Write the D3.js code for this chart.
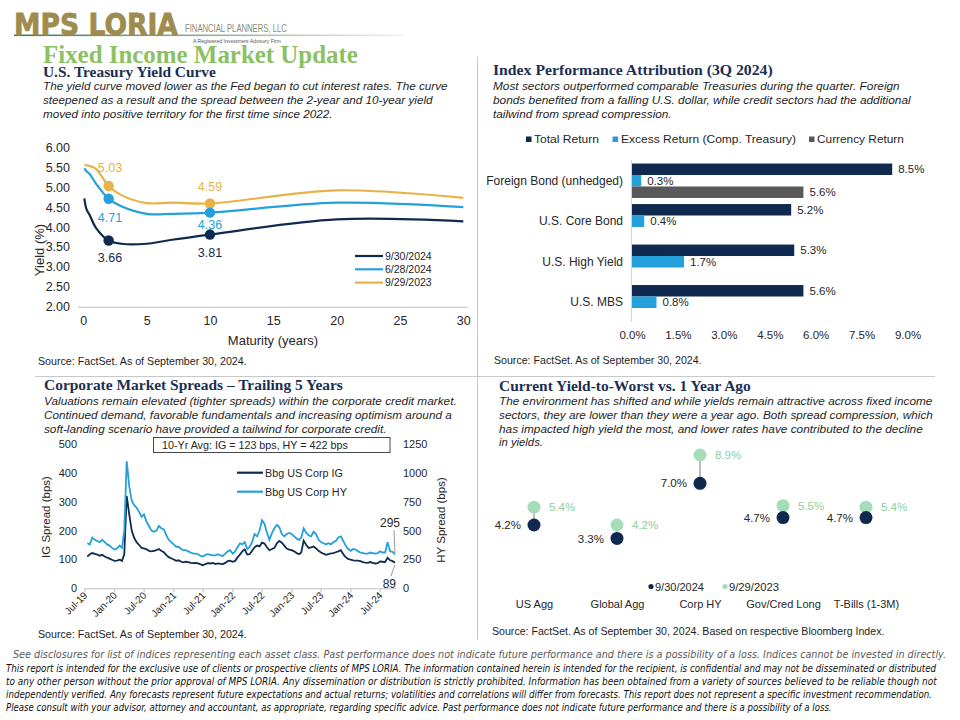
<!DOCTYPE html>
<html lang="en">
<head>
<meta charset="UTF-8">
<title>Fixed Income Market Update</title>
<style>
  body { margin: 0; background: #fff; }
  svg { display: block; font-family: "Liberation Sans", Arial, sans-serif; }
</style>
</head>
<body>
<script src="https://d3js.org/d3.v7.min.js"></script>
<script>
// ---- data ----
const maturities = [0.083, 0.25, 0.5, 1, 2, 3, 5, 7, 10, 20, 30];
const yieldSep2024 = [4.72, 4.45, 4.30, 3.98, 3.66, 3.58, 3.58, 3.68, 3.81, 4.19, 4.14];
const yieldJun2024 = [5.47, 5.40, 5.33, 5.09, 4.71, 4.52, 4.33, 4.33, 4.36, 4.61, 4.50];
const yieldSep2023 = [5.55, 5.55, 5.53, 5.46, 5.03, 4.80, 4.60, 4.61, 4.59, 4.92, 4.73];
const curveNames = ["9/30/2024", "6/28/2024", "9/29/2023"];
const yieldTicks = [2, 2.5, 3, 3.5, 4, 4.5, 5, 5.5, 6];
const maturityTicks = [0, 5, 10, 15, 20, 25, 30];

const attribCategories = ["Foreign Bond (unhedged)", "U.S. Core Bond", "U.S. High Yield", "U.S. MBS"];
const totalReturn = [8.5, 5.2, 5.3, 5.6];
const excessReturn = [0.3, 0.4, 1.7, 0.8];
const currencyReturn = [5.6, null, null, null];
const attribSeries = ["Total Return", "Excess Return (Comp. Treasury)", "Currency Return"];
const returnTicks = [0, 1.5, 3, 4.5, 6, 7.5, 9];

// mid-month and month-end readings, Jul 2019 .. Sep 2024
const igSpread = [
  110,118, 122,119, 117,113, 116,110, 106,103, 99,95,
  96,99, 95,118, 320,255, 200,175, 160,150, 140,138, 135,130, 128,130, 132,136, 130,125, 115,108, 104,100,
  95,97, 92,90, 92,91, 88,87, 88,86, 83,80, 84,87, 86,88, 84,86, 85,84, 88,94, 96,92,
  95,108, 118,128, 135,117, 118,130, 142,148, 145,158, 155,142, 132,136, 140,156, 164,158, 148,138, 134,132,
  128,122, 118,124, 165,150, 140,142, 145,138, 130,124, 120,116, 118,121, 122,125, 128,132, 118,108, 102,99,
  97,96, 96,94, 91,89, 88,91, 88,86, 87,93, 92,91, 106,97, 94,89
];
const hySpread = [
  390,380, 440,420, 410,400, 420,400, 380,370, 350,336,
  345,370, 350,500, 1100,880, 760,720, 700,660, 620,640, 580,540, 500,490, 500,540, 520,510, 460,420, 400,380,
  360,360, 340,330, 330,320, 310,300, 300,295, 280,275, 290,295, 290,285, 285,295, 285,280, 300,320, 330,300,
  320,360, 390,380, 400,340, 360,400, 470,450, 500,590, 560,480, 420,480, 520,550, 530,470, 450,470, 480,470,
  450,430, 420,440, 520,480, 460,450, 490,470, 420,400, 390,380, 390,380, 400,410, 440,450, 410,370, 340,325,
  340,335, 320,310, 305,300, 300,310, 305,300, 305,320, 310,310, 400,320, 315,295
];
const igTicks = [0, 100, 200, 300, 400, 500];
const hyTicks = [0, 250, 500, 750, 1000, 1250];
const spreadNames = ["Bbg US Corp IG", "Bbg US Corp HY"];

const ytwCategories = ["US Agg", "Global Agg", "Corp HY", "Gov/Cred Long", "T-Bills (1-3M)"];
const ytwCurrent = [4.2, 3.3, 7.0, 4.7, 4.7];
const ytwYearAgo = [5.4, 4.2, 8.9, 5.5, 5.4];
const ytwNames = ["9/30/2024", "9/29/2023"];

// ---- colours ----
const NAVY = '#102a4f', BLUE = '#25a0da', GOLD = '#e8b246', DARKGREY = '#595959';
const MINT = '#a7dcb9', MINT_TXT = '#8ccf9c', TITLE = '#1b2f52', INK = '#262626';

const svg = d3.select('body').append('svg').attr('width', 960).attr('height', 720);
svg.append('rect').attr('width', 960).attr('height', 720).attr('fill', '#fff');

function txt(g, x, y, s, o) {
  const t = g.append('text').attr('x', x).attr('y', y).text(s);
  for (const k in (o || {})) t.attr(k, o[k]);
  return t;
}
// squeeze/stretch a line of text horizontally to the width it has in the picture
function fitted(g, x, y, s, w, o) {
  const t = txt(g, 0, 0, s, o);
  const w0 = t.node().getComputedTextLength() || w;
  t.attr('transform', `translate(${x},${y}) scale(${(w / w0).toFixed(4)},1)`);
  return t;
}
function sectionTitle(x, y, s, w) {
  fitted(svg, x, y, s, w, { 'font-family': 'Liberation Serif, serif', 'font-weight': 'bold',
    'font-size': 15.5, fill: TITLE });
}
function para(x, ys, lines, widths) {
  lines.forEach((l, i) => fitted(svg, x, ys[i], l, widths[i],
    { 'font-style': 'italic', 'font-size': 11.5, fill: '#1e1e1e' }));
}
function source(x, y, s, w) {
  fitted(svg, x, y, s, w, { 'font-size': 10, fill: '#1e1e1e' });
}

// ---- header ----
const defs = svg.append('defs');
const grad = defs.append('linearGradient').attr('id', 'hdr');
grad.append('stop').attr('offset', '0%').attr('stop-color', '#3f7d57');
grad.append('stop').attr('offset', '60%').attr('stop-color', '#a9b8ab');
grad.append('stop').attr('offset', '100%').attr('stop-color', '#f2f2f2');
svg.append('rect').attr('x', 14).attr('y', 34.5).attr('width', 390).attr('height', 1.6).attr('fill', 'url(#hdr)');
fitted(svg, 14, 35, 'MPS LORIA', 164, { 'font-family': 'DejaVu Sans', 'font-weight': 'bold',
  'font-size': 30, fill: '#9f8b4e', stroke: '#9f8b4e', 'stroke-width': 0.8 });
fitted(svg, 185, 31.5, 'FINANCIAL PLANNERS, LLC', 102, { 'font-size': 10, fill: '#8b8b73' });
fitted(svg, 193, 42.5, 'A Registered Investment Advisory Firm', 88, { 'font-size': 5.5, fill: '#555' });
fitted(svg, 43, 62.5, 'Fixed Income Market Update', 315, { 'font-family': 'Liberation Serif, serif',
  'font-weight': 'bold', 'font-size': 25, fill: '#8cc163' });

// frame lines
svg.append('line').attr('x1', 477.5).attr('x2', 477.5).attr('y1', 57).attr('y2', 640)
  .attr('stroke', '#c8c8c8');
svg.append('line').attr('x1', 35).attr('x2', 935).attr('y1', 376.5).attr('y2', 376.5)
  .attr('stroke', '#c8c8c8');

// ---- panel 1: yield curve ----
sectionTitle(43, 76.5, 'U.S. Treasury Yield Curve', 173);
para(43, [90, 104, 118], [
  'The yield curve moved lower as the Fed began to cut interest rates.  The curve',
  'steepened as a result and the spread between the 2-year and 10-year yield',
  'moved into positive territory for the first time since 2022.'
], [405, 390, 290]);

{
  const x = d3.scaleLinear().domain([0, 30]).range([83.3, 463.3]);
  const y = d3.scaleLinear().domain([2, 6]).range([306.7, 147.3]);
  const g = svg.append('g');

  g.append('line').attr('x1', 78).attr('x2', 468).attr('y1', y(2) + 0.5).attr('y2', y(2) + 0.5)
    .attr('stroke', '#bfbfbf');
  g.append('g').attr('transform', `translate(0,${y(2)})`)
    .call(d3.axisBottom(x).tickValues(maturityTicks).tickSize(0).tickPadding(9))
    .call(a => a.select('.domain').remove())
    .selectAll('text').attr('font-size', 12.5).attr('fill', INK).attr('font-family', 'Liberation Sans');
  g.append('g').attr('transform', 'translate(72,0)')
    .call(d3.axisLeft(y).tickValues(yieldTicks).tickFormat(d3.format('.2f')).tickSize(0).tickPadding(2))
    .call(a => a.select('.domain').remove())
    .selectAll('text').attr('font-size', 12.5).attr('fill', INK).attr('font-family', 'Liberation Sans');
  txt(g, 273, 345, 'Maturity (years)', { 'font-size': 13, 'text-anchor': 'middle', fill: INK });
  txt(g, 0, 0, 'Yield (%)', { 'font-size': 13, 'text-anchor': 'middle', fill: INK,
    transform: 'translate(44,250) rotate(-90)' });

  const line = d3.line().x((d, i) => x(maturities[i])).y(d => y(d))
    .curve(d3.curveCatmullRom.alpha(0.5));
  const series = [
    { vals: yieldSep2023, c: GOLD, lab: [[110, 172], [210, 191]] },
    { vals: yieldJun2024, c: BLUE, lab: [[110, 222], [210, 229]] },
    { vals: yieldSep2024, c: NAVY, lab: [[110, 262], [210, 257]] }
  ];
  series.forEach(s => {
    g.append('path').attr('d', line(s.vals)).attr('fill', 'none').attr('stroke', s.c).attr('stroke-width', 2.2);
  });
  series.forEach(s => {
    [4, 8].forEach((k, j) => {
      g.append('circle').attr('cx', x(maturities[k])).attr('cy', y(s.vals[k])).attr('r', 5.2).attr('fill', s.c);
      txt(g, s.lab[j][0], s.lab[j][1], d3.format('.2f')(s.vals[k]),
        { 'font-size': 12.5, 'text-anchor': 'middle', fill: s.c });
    });
  });
  [NAVY, BLUE, GOLD].forEach((c, i) => {
    const ly = 256 + i * 13.3;
    g.append('line').attr('x1', 355).attr('x2', 383).attr('y1', ly).attr('y2', ly)
      .attr('stroke', c).attr('stroke-width', 2.2);
    txt(g, 385, ly + 3.8, curveNames[i], { 'font-size': 10.5, fill: INK });
  });
}
source(38, 364.5, 'Source: FactSet. As of September 30, 2024.', 209);

// ---- panel 2: attribution bars ----
sectionTitle(493, 75, 'Index Performance Attribution (3Q 2024)', 280);
para(493, [90, 104, 118], [
  'Most sectors outperformed comparable Treasuries during the quarter. Foreign',
  'bonds benefited from a falling U.S. dollar, while credit sectors had the additional',
  'tailwind from spread compression.'
], [407, 418, 179]);

{
  const x = d3.scaleLinear().domain([0, 9]).range([632, 907.5]);
  const y = d3.scaleBand().domain(attribCategories).range([160.5, 322.5]).paddingInner(0.15).paddingOuter(0.075);
  const sub = d3.scaleBand().domain([0, 1, 2]).range([0, y.bandwidth()]);
  const colors = [NAVY, BLUE, DARKGREY];
  const g = svg.append('g');

  // legend
  const legX = [[526, 534, 65], [612.5, 621, 175], [809, 817, 87]];
  attribSeries.forEach((s, i) => {
    g.append('rect').attr('x', legX[i][0]).attr('y', 136.5).attr('width', 5.5).attr('height', 5.5).attr('fill', colors[i]);
    fitted(g, legX[i][1], 143, s, legX[i][2], { 'font-size': 11, fill: INK });
  });

  const rows = [];
  attribCategories.forEach((c, i) => {
    [totalReturn[i], excessReturn[i], currencyReturn[i]].forEach((v, k) => {
      if (v != null) rows.push({ c, k, v });
    });
  });
  g.selectAll('rect.bar').data(rows).join('rect').attr('class', 'bar')
    .attr('x', x(0)).attr('y', d => y(d.c) + sub(d.k))
    .attr('width', d => x(d.v) - x(0)).attr('height', sub.bandwidth())
    .attr('fill', d => colors[d.k]);
  g.selectAll('text.val').data(rows).join('text').attr('class', 'val')
    .attr('x', d => x(d.v) + 6).attr('y', d => y(d.c) + sub(d.k) + sub.bandwidth() / 2)
    .attr('dy', '0.36em').attr('font-size', 11.5).attr('fill', INK)
    .text(d => d3.format('.1f')(d.v) + '%');

  g.append('line').attr('x1', x(0) - 0.5).attr('x2', x(0) - 0.5).attr('y1', 160).attr('y2', 322)
    .attr('stroke', '#d4d4d4');
  g.append('g').attr('transform', `translate(${x(0) - 9},0)`)
    .call(d3.axisLeft(y).tickSize(0).tickPadding(0))
    .call(a => a.select('.domain').remove())
    .selectAll('text').attr('font-size', 12).attr('fill', INK).attr('font-family', 'Liberation Sans');
  g.append('g').attr('transform', 'translate(0,322)')
    .call(d3.axisBottom(x).tickValues(returnTicks).tickFormat(d => d3.format('.1f')(d) + '%').tickSize(0).tickPadding(9))
    .call(a => a.select('.domain').remove())
    .selectAll('text').attr('font-size', 11.5).attr('fill', INK).attr('font-family', 'Liberation Sans');
}
source(494, 364, 'Source: FactSet. As of September 30, 2024.', 208);

// ---- panel 3: corporate spreads ----
sectionTitle(44, 390, 'Corporate Market Spreads \u2013 Trailing 5 Years', 299);
para(44, [405, 419, 433], [
  'Valuations remain elevated (tighter spreads) within the corporate credit market.',
  'Continued demand, favorable fundamentals and increasing optimism around a',
  'soft-landing scenario have provided a tailwind for corporate credit.'
], [413, 408, 343]);

{
  const spreadDates = [];
  for (let m = 0; m < igSpread.length / 2; m++) {
    spreadDates.push(new Date(2019, 6 + m, 15));
    spreadDates.push(new Date(2019, 7 + m, 0));
  }
  const x = d3.scaleTime().domain([new Date(2019, 6, 1), new Date(2024, 8, 30)]).range([85, 395]);
  const yIG = d3.scaleLinear().domain([0, 500]).range([588.3, 444]);
  const yHY = d3.scaleLinear().domain([0, 1250]).range([588.3, 444]);
  const g = svg.append('g');

  g.append('rect').attr('x', 153.5).attr('y', 437.5).attr('width', 236.5).attr('height', 15)
    .attr('fill', '#fff').attr('stroke', '#333').attr('stroke-width', 0.9);
  fitted(g, 162, 449, '10-Yr Avg: IG = 123 bps, HY = 422 bps', 186, { 'font-size': 10.5, fill: INK });

  g.append('g').attr('transform', 'translate(78,0)')
    .call(d3.axisLeft(yIG).tickValues(igTicks).tickSize(0).tickPadding(1))
    .call(a => a.select('.domain').remove())
    .selectAll('text').attr('font-size', 11).attr('fill', INK).attr('font-family', 'Liberation Sans');
  g.append('g').attr('transform', 'translate(402,0)')
    .call(d3.axisRight(yHY).tickValues(hyTicks).tickFormat(d3.format('d')).tickSize(0).tickPadding(1))
    .call(a => a.select('.domain').remove())
    .selectAll('text').attr('font-size', 11).attr('fill', INK).attr('font-family', 'Liberation Sans');
  txt(g, 0, 0, 'IG Spread (bps)', { 'font-size': 11.5, 'text-anchor': 'middle', fill: INK,
    transform: 'translate(50,517) rotate(-90)' });
  txt(g, 0, 0, 'HY Spread (bps)', { 'font-size': 11.5, 'text-anchor': 'middle', fill: INK,
    transform: 'translate(445,520) rotate(-90)' });

  const tickDates = d3.timeMonth.range(new Date(2019, 6, 1), new Date(2024, 7, 1), 6);
  g.append('line').attr('x1', 84).attr('x2', 396).attr('y1', 588.8).attr('y2', 588.8).attr('stroke', '#bfbfbf');
  tickDates.forEach(d => {
    g.append('line').attr('x1', x(d)).attr('x2', x(d)).attr('y1', 588.8).attr('y2', 592.5).attr('stroke', '#bfbfbf');
    txt(g, 0, 0, d3.timeFormat('%b-%y')(d), { 'font-size': 10, 'text-anchor': 'end', fill: INK,
      transform: `translate(${x(d) + 3},${596}) rotate(-45)` });
  });

  const lIG = d3.line().x((d, i) => x(spreadDates[i])).y(d => yIG(d));
  const lHY = d3.line().x((d, i) => x(spreadDates[i])).y(d => yHY(d));
  g.append('path').attr('d', lIG(igSpread)).attr('fill', 'none').attr('stroke', NAVY).attr('stroke-width', 1.8);
  g.append('path').attr('d', lHY(hySpread)).attr('fill', 'none').attr('stroke', BLUE).attr('stroke-width', 1.8);

  [NAVY, BLUE].forEach((c, i) => {
    const ly = 472.7 + i * 19;
    g.append('line').attr('x1', 237).attr('x2', 263).attr('y1', ly).attr('y2', ly).attr('stroke', c).attr('stroke-width', 2.2);
    fitted(g, 265, ly + 4, spreadNames[i], i ? 82 : 78, { 'font-size': 11, fill: INK });
  });

  const n = igSpread.length - 1;
  const ex = x(spreadDates[n]);
  txt(g, 400, 527, hySpread[n], { 'font-size': 12, 'text-anchor': 'end', fill: INK });
  g.append('line').attr('x1', 394).attr('x2', ex).attr('y1', 530).attr('y2', yHY(hySpread[n]) - 1).attr('stroke', '#999');
  txt(g, 396, 588, igSpread[n], { 'font-size': 12, 'text-anchor': 'end', fill: INK });
  g.append('line').attr('x1', ex).attr('x2', 391).attr('y1', yIG(igSpread[n]) + 2).attr('y2', 576).attr('stroke', '#999');
}
source(38, 637.5, 'Source: FactSet. As of September 30, 2024.', 209);

// ---- panel 4: yield-to-worst dots ----
sectionTitle(499, 391, 'Current Yield-to-Worst vs. 1 Year Ago', 252);
para(499, [405, 419, 432.5, 446], [
  'The environment has shifted and while yields remain attractive across fixed income',
  'sectors, they are lower than they were a year ago.  Both spread compression, which',
  'has impacted high yield the most, and lower rates have contributed to the decline',
  'in yields.'
], [434, 434, 424, 44]);

{
  const x = d3.scalePoint().domain(ytwCategories).range([534, 866]);
  const y = d3.scaleLinear().domain([0, 10]).range([587.6, 438.6]);
  const g = svg.append('g');
  const pct = d => d3.format('.1f')(d) + '%';

  ytwCategories.forEach((c, i) => {
    g.append('line').attr('x1', x(c)).attr('x2', x(c)).attr('y1', y(ytwCurrent[i])).attr('y2', y(ytwYearAgo[i]))
      .attr('stroke', '#a6a6a6').attr('stroke-width', 1.5);
  });
  g.selectAll('circle.ago').data(ytwYearAgo).join('circle').attr('class', 'ago')
    .attr('cx', (d, i) => x(ytwCategories[i])).attr('cy', d => y(d)).attr('r', 6.5).attr('fill', MINT);
  g.selectAll('circle.cur').data(ytwCurrent).join('circle').attr('class', 'cur')
    .attr('cx', (d, i) => x(ytwCategories[i])).attr('cy', d => y(d)).attr('r', 6.5).attr('fill', NAVY);
  g.selectAll('text.ago').data(ytwYearAgo).join('text').attr('class', 'ago')
    .attr('x', (d, i) => x(ytwCategories[i]) + 15).attr('y', d => y(d)).attr('dy', '0.36em')
    .attr('font-size', 11.5).attr('fill', MINT_TXT).text(pct);
  g.selectAll('text.cur').data(ytwCurrent).join('text').attr('class', 'cur')
    .attr('x', (d, i) => x(ytwCategories[i]) - 13).attr('y', d => y(d)).attr('dy', '0.36em')
    .attr('text-anchor', 'end').attr('font-size', 11.5).attr('fill', INK).text(pct);

  g.append('g').attr('transform', 'translate(0,597)')
    .call(d3.axisBottom(x).tickSize(0).tickPadding(3))
    .call(a => a.select('.domain').remove())
    .selectAll('text').attr('font-size', 11).attr('fill', INK).attr('font-family', 'Liberation Sans');

  [[651, 655, 49, NAVY], [725, 729, 50, MINT]].forEach((l, i) => {
    g.append('circle').attr('cx', l[0]).attr('cy', 586.5).attr('r', 2.6).attr('fill', l[3]);
    fitted(g, l[1], 590.5, ytwNames[i], l[2], { 'font-size': 10.5, fill: INK });
  });
}
source(492, 634.5, 'Source: FactSet. As of September 30, 2024. Based on respective Bloomberg Index.', 393);

// ---- footer ----
const foot = { 'font-family': 'Liberation Sans Narrow, DejaVu Sans Condensed, sans-serif',
  'font-style': 'italic', 'font-size': 10 };
fitted(svg, 13, 657.5, 'See disclosures for list of indices representing each asset class. Past performance does not indicate future performance and there is a possibility of a loss. Indices cannot be invested in directly.',
  934, Object.assign({ fill: '#595959' }, foot));
[
  ['This report is intended for the exclusive use of clients or prospective clients of MPS LORIA. The information contained herein is intended for the recipient, is confidential and may not be disseminated or distributed', 931],
  ['to any other person without the prior approval of MPS LORIA. Any dissemination or distribution is strictly prohibited. Information has been obtained from a variety of sources believed to be reliable though not', 931],
  ['independently verified. Any forecasts represent future expectations and actual returns; volatilities and correlations will differ from forecasts. This report does not represent a specific investment recommendation.', 928],
  ['Please consult with your advisor, attorney and accountant, as appropriate, regarding specific advice. Past performance does not indicate future performance and there is a possibility of a loss.', 827]
].forEach((l, i) => fitted(svg, 6, 671.5 + i * 13, l[0], l[1], Object.assign({ fill: '#111' }, foot)));
</script>
</body>
</html>
